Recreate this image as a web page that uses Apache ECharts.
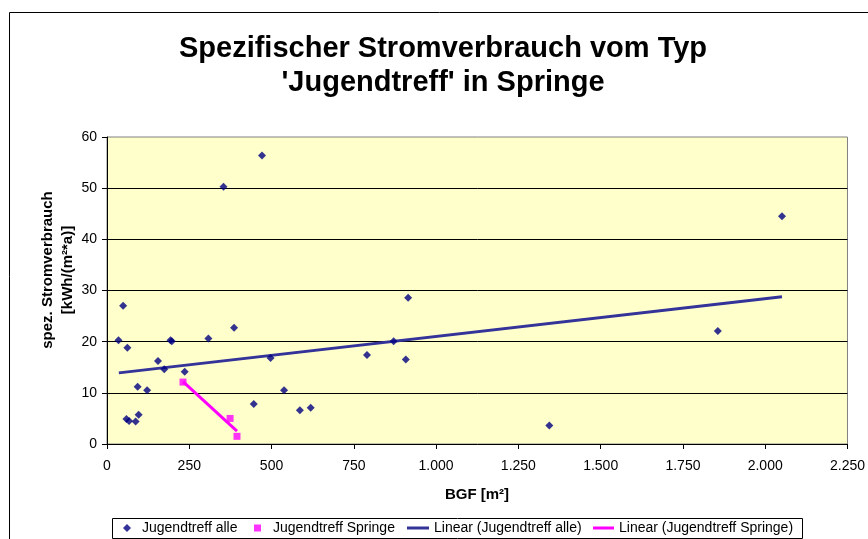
<!DOCTYPE html>
<html>
<head>
<meta charset="utf-8">
<script src="https://cdn.jsdelivr.net/npm/echarts@6/dist/echarts.min.js"></script>
<style>
  html, body { margin: 0; padding: 0; background: #fff; }
  #chart { width: 868px; height: 539px; }
</style>
</head>
<body>
<div id="chart"></div>
<script>
// Jugendtreff alle: BGF [m²] / spez. Stromverbrauch [kWh/(m²*a)]
var alleBGF = [35, 49, 62, 59, 67, 87, 96, 93, 122, 155, 174, 193, 197, 236, 308,
               354, 386, 446, 471, 497, 538, 586, 619, 790, 871, 915, 908, 1344, 1856, 2051];
var alleVerbrauch = [20.3, 27.0, 18.8, 4.9, 4.5, 4.4, 5.7, 11.2, 10.5, 16.2, 14.6, 20.3, 20.1, 14.1, 20.6,
                     50.3, 22.7, 7.8, 56.4, 16.8, 10.5, 6.6, 7.1, 17.4, 20.1, 28.6, 16.5, 3.6, 22.1, 44.5];

// Jugendtreff Springe
var springeBGF = [231, 374, 395];
var springeVerbrauch = [12.1, 5.0, 1.5];

var trendAlleBGF = [36, 2051];
var trendAlleVerbrauch = [13.9, 28.8];
var trendSpringeBGF = [231, 395];
var trendSpringeVerbrauch = [12.2, 2.5];

var seriesNames = ['Jugendtreff alle', 'Jugendtreff Springe',
                   'Linear (Jugendtreff alle)', 'Linear (Jugendtreff Springe)'];

function pairs(xs, ys) {
    return xs.map(function (x, i) { return [x, ys[i]]; });
}

// 1000 -> "1.000"
function deNumber(v) {
    return String(v).replace(/\B(?=(\d{3})+(?!\d))/g, '.');
}

var font = 'Liberation Sans, Arial, sans-serif';

function legendItem(name, left, w, h, icon, padLeft) {
    return {
        data: [name],
        left: left,
        top: 520,
        padding: 0,
        itemWidth: w,
        itemHeight: h,
        icon: icon,
        selectedMode: false,
        textStyle: { color: '#000', fontFamily: font, fontSize: 14, lineHeight: 16,
                     padding: [0, 0, 0, padLeft] }
    };
}

var chart = echarts.init(document.getElementById('chart'));
chart.setOption({
    animation: false,
    backgroundColor: '#fff',
    textStyle: { fontFamily: font },
    grid: {
        left: 107,
        right: 20,
        top: 137,
        bottom: 95,
        show: true,
        backgroundColor: '#FFFFCC',
        borderColor: '#808080',
        borderWidth: 1
    },
    xAxis: {
        type: 'value',
        min: 0,
        max: 2250,
        interval: 250,
        axisLine: { show: true, onZero: false, lineStyle: { color: '#000', width: 1 } },
        axisTick: { show: true, length: 5, lineStyle: { color: '#000' } },
        axisLabel: { color: '#000', fontSize: 14, margin: 15, formatter: deNumber },
        splitLine: { show: false }
    },
    yAxis: {
        type: 'value',
        min: 0,
        max: 60,
        interval: 10,
        axisLine: { show: true, lineStyle: { color: '#000', width: 1 } },
        axisTick: { show: true, length: 5, lineStyle: { color: '#000' } },
        axisLabel: { color: '#000', fontSize: 14, margin: 10 },
        splitLine: { show: true, showMaxLine: false, showMinLine: false,
                     lineStyle: { color: '#000', width: 1 } }
    },
    legend: [
        legendItem(seriesNames[0], 123, 8, 8, 'diamond', 6),
        legendItem(seriesNames[1], 254, 7, 7, 'rect', 7),
        legendItem(seriesNames[2], 407, 22, 3, 'rect', 0),
        legendItem(seriesNames[3], 593, 21, 3, 'rect', 0)
    ],
    graphic: [
        // Diagrammrahmen
        { type: 'rect', silent: true, z: -1,
          shape: { x: 9.5, y: 12.5, width: 900, height: 600 },
          style: { fill: null, stroke: '#000', lineWidth: 1 } },
        // Legendenrahmen
        { type: 'rect', silent: true,
          shape: { x: 112.5, y: 518.5, width: 690, height: 20 },
          style: { fill: null, stroke: '#000', lineWidth: 1 } },
        { type: 'text', silent: true,
          style: { x: 443, y: 32, text: "Spezifischer Stromverbrauch vom Typ\n'Jugendtreff' in Springe",
                   align: 'center', verticalAlign: 'top', lineHeight: 34,
                   font: 'bold 29px ' + font, fill: '#000' } },
        { type: 'text', silent: true, rotation: Math.PI / 2, x: 58, y: 270,
          style: { x: 0, y: 0, text: 'spez. Stromverbrauch\n[kWh/(m²*a)]',
                   align: 'center', verticalAlign: 'middle', lineHeight: 20,
                   font: 'bold 15px ' + font, fill: '#000' } },
        { type: 'text', silent: true,
          style: { x: 477, y: 495, text: 'BGF [m²]', align: 'center', verticalAlign: 'middle',
                   font: 'bold 15px ' + font, fill: '#000' } }
    ],
    series: [
        {
            name: seriesNames[0],
            type: 'scatter',
            symbol: 'diamond',
            symbolSize: 8,
            itemStyle: { color: '#000080' },
            data: pairs(alleBGF, alleVerbrauch),
            z: 3
        },
        {
            name: seriesNames[1],
            type: 'scatter',
            symbol: 'rect',
            symbolSize: 7,
            itemStyle: { color: '#FF00FF' },
            data: pairs(springeBGF, springeVerbrauch),
            z: 3
        },
        {
            name: seriesNames[2],
            type: 'line',
            showSymbol: false,
            symbol: 'none',
            lineStyle: { color: '#333399', width: 3 },
            itemStyle: { color: '#333399' },
            data: pairs(trendAlleBGF, trendAlleVerbrauch),
            z: 2
        },
        {
            name: seriesNames[3],
            type: 'line',
            showSymbol: false,
            symbol: 'none',
            lineStyle: { color: '#FF00FF', width: 3 },
            itemStyle: { color: '#FF00FF' },
            data: pairs(trendSpringeBGF, trendSpringeVerbrauch),
            z: 2
        }
    ]
});
</script>
</body>
</html>
